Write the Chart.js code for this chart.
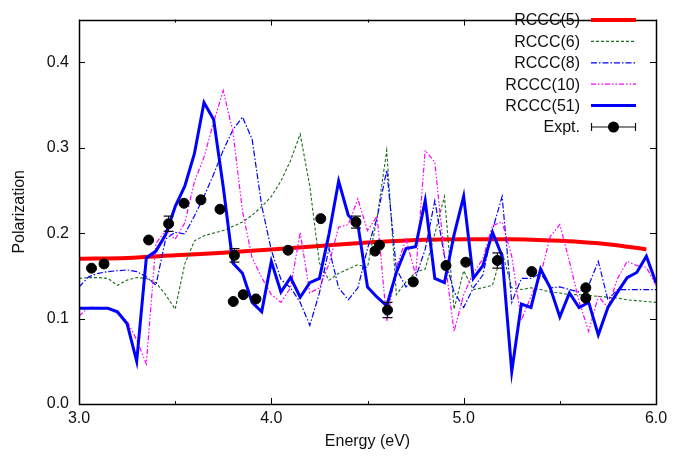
<!DOCTYPE html>
<html>
<head>
<meta charset="utf-8">
<script src="https://cdn.jsdelivr.net/npm/chart.js@4"></script>
<style>
  html, body { margin: 0; padding: 0; background: #fff; }
  #wrap { width: 684px; height: 459px; }
</style>
</head>
<body>
<div id="wrap"><canvas id="myChart" width="684" height="459"></canvas></div>
<script>
// Energy grid shared by the RCCC(6), (8), (10) and (51) curves (eV)
const energies = [
  3.00, 3.05, 3.10, 3.15, 3.20, 3.25, 3.30, 3.35, 3.40, 3.45,
  3.50, 3.55, 3.60, 3.65, 3.70, 3.75, 3.80, 3.85, 3.90, 3.95,
  4.00, 4.05, 4.10, 4.15, 4.20, 4.25, 4.30, 4.35, 4.40, 4.45,
  4.50, 4.55, 4.60, 4.65, 4.70, 4.75, 4.80, 4.85, 4.90, 4.95,
  5.00, 5.05, 5.10, 5.15, 5.20, 5.25, 5.30, 5.35, 5.40, 5.45,
  5.50, 5.55, 5.60, 5.65, 5.70, 5.75, 5.80, 5.85, 5.90, 5.95, 6.00
];

const rccc6 = [
  0.147, 0.148, 0.148, 0.147, 0.139, 0.145, 0.148, 0.147, 0.142, 0.128,
  0.111, 0.164, 0.191, 0.197, 0.200, 0.203, 0.208, 0.213, 0.221, 0.231,
  0.243, 0.261, 0.285, 0.316, 0.255, 0.165, 0.145, 0.153, 0.158, 0.163,
  0.160, 0.218, 0.297, 0.128, 0.143, 0.154, 0.158, 0.199, 0.243, 0.111,
  0.156, 0.134, 0.136, 0.139, 0.178, 0.136, 0.134, 0.136, 0.134, 0.131,
  0.130, 0.128, 0.128, 0.127, 0.126, 0.125, 0.124, 0.122, 0.121, 0.120, 0.119
];

const rccc8 = [
  0.137, 0.149, 0.153, 0.155, 0.156, 0.157, 0.155, 0.149, 0.139, 0.193,
  0.201, 0.199, 0.220, 0.243, 0.269, 0.297, 0.321, 0.336, 0.310, 0.232,
  0.180, 0.146, 0.136, 0.119, 0.092, 0.130, 0.182, 0.136, 0.122, 0.136,
  0.182, 0.218, 0.274, 0.158, 0.137, 0.148, 0.181, 0.238, 0.173, 0.131,
  0.113, 0.136, 0.151, 0.204, 0.243, 0.119, 0.147, 0.147, 0.153, 0.136,
  0.137, 0.134, 0.131, 0.139, 0.167, 0.122, 0.134, 0.134, 0.134, 0.134, 0.134
];

const rccc10 = [
  0.103, 0.113, 0.113, 0.112, 0.106, 0.097, 0.075, 0.047, 0.188, 0.203,
  0.193, 0.212, 0.260, 0.289, 0.330, 0.367, 0.319, 0.226, 0.171, 0.148,
  0.128, 0.119, 0.136, 0.201, 0.130, 0.136, 0.164, 0.207, 0.210, 0.240,
  0.203, 0.220, 0.097, 0.160, 0.193, 0.151, 0.297, 0.283, 0.173, 0.085,
  0.128, 0.153, 0.170, 0.209, 0.213, 0.173, 0.098, 0.126, 0.151, 0.196,
  0.210, 0.167, 0.120, 0.085, 0.126, 0.113, 0.147, 0.167, 0.162, 0.160, 0.139
];

const rccc51 = [
  0.112, 0.112, 0.112, 0.112, 0.108, 0.094, 0.050, 0.171, 0.179, 0.198,
  0.231, 0.255, 0.293, 0.353, 0.333, 0.254, 0.165, 0.153, 0.119, 0.108,
  0.167, 0.131, 0.148, 0.125, 0.142, 0.147, 0.199, 0.261, 0.221, 0.210,
  0.137, 0.125, 0.115, 0.154, 0.182, 0.184, 0.238, 0.147, 0.142, 0.198,
  0.243, 0.147, 0.162, 0.201, 0.173, 0.038, 0.117, 0.113, 0.158, 0.136,
  0.102, 0.130, 0.113, 0.119, 0.081, 0.113, 0.131, 0.148, 0.154, 0.173, 0.142
];

// RCCC(5) is smooth, so it has its own coarser grid
const rccc5Energies = [3.00, 3.25, 3.50, 3.75, 4.00, 4.25, 4.50, 4.75, 5.00, 5.25, 5.50, 5.75, 5.95];
const rccc5 = [0.170, 0.171, 0.174, 0.177, 0.181, 0.185, 0.189, 0.192, 0.193, 0.193, 0.191, 0.187, 0.181];

// Experimental points and their error bars
const exptEnergies = [
  3.065, 3.130, 3.362, 3.466, 3.546, 3.634, 3.733, 3.808, 3.802, 3.854, 3.920, 4.087,
  4.257, 4.440, 4.539, 4.562, 4.604, 4.738, 4.908, 5.011, 5.175, 5.354, 5.635, 5.635
];
const exptValues = [
  0.159, 0.164, 0.192, 0.211, 0.235, 0.239, 0.228, 0.174, 0.120, 0.128, 0.123, 0.180,
  0.217, 0.213, 0.179, 0.186, 0.110, 0.143, 0.162, 0.166, 0.168, 0.155, 0.136, 0.124
];
const exptErrors = [
  0, 0, 0, 0.009, 0, 0, 0, 0.008, 0, 0, 0, 0,
  0, 0.007, 0, 0, 0.009, 0, 0, 0, 0.009, 0, 0, 0
];

const xTicks = [3, 4, 5, 6];
const xMinorTicks = [3.5, 4.5, 5.5];
const yTicks = [0, 0.1, 0.2, 0.3, 0.4];

const seriesLabels = ['RCCC(5)', 'RCCC(6)', 'RCCC(8)', 'RCCC(10)', 'RCCC(51)', 'Expt.'];

const FONT = "'Liberation Sans', Arial, Helvetica, sans-serif";
Chart.defaults.font.family = FONT;
Chart.defaults.font.size = 16;
Chart.defaults.color = '#111';

function pairs(xs, ys) {
  return xs.map((x, i) => ({ x: x, y: ys[i] }));
}

// Ticks pointing inward on all four sides, plus the frame
const framePlugin = {
  id: 'frame',
  afterDraw(chart) {
    const { ctx, chartArea: a, scales } = chart;
    ctx.save();
    ctx.strokeStyle = '#000';
    ctx.lineWidth = 1;
    ctx.beginPath();
    xTicks.forEach(v => {
      const px = Math.round(scales.x.getPixelForValue(v)) + 0.5;
      ctx.moveTo(px, a.bottom); ctx.lineTo(px, a.bottom - 6);
      ctx.moveTo(px, a.top); ctx.lineTo(px, a.top + 6);
    });
    xMinorTicks.forEach(v => {
      const px = Math.round(scales.x.getPixelForValue(v)) + 0.5;
      ctx.moveTo(px, a.bottom); ctx.lineTo(px, a.bottom - 3);
      ctx.moveTo(px, a.top); ctx.lineTo(px, a.top + 3);
    });
    yTicks.forEach(v => {
      const py = Math.round(scales.y.getPixelForValue(v)) + 0.5;
      ctx.moveTo(a.left, py); ctx.lineTo(a.left + 6, py);
      ctx.moveTo(a.right, py); ctx.lineTo(a.right - 6, py);
    });
    ctx.stroke();
    ctx.lineWidth = 1.5;
    ctx.strokeRect(Math.round(a.left) + 0.5, Math.round(a.top) + 0.5,
      Math.round(a.right - a.left), Math.round(a.bottom - a.top));
    ctx.restore();
  }
};

// Vertical error bars with small caps for the experiment
const errorBarPlugin = {
  id: 'errorBars',
  afterDatasetsDraw(chart) {
    const { ctx, scales } = chart;
    ctx.save();
    ctx.strokeStyle = '#111';
    ctx.lineWidth = 1.2;
    ctx.beginPath();
    exptEnergies.forEach((e, i) => {
      const err = exptErrors[i];
      if (!err) return;
      const px = scales.x.getPixelForValue(e);
      const y1 = scales.y.getPixelForValue(exptValues[i] - err);
      const y2 = scales.y.getPixelForValue(exptValues[i] + err);
      ctx.moveTo(px, y1); ctx.lineTo(px, y2);
      ctx.moveTo(px - 5, y1); ctx.lineTo(px + 5, y1);
      ctx.moveTo(px - 5, y2); ctx.lineTo(px + 5, y2);
    });
    ctx.stroke();
    ctx.restore();
  }
};

// Key in the top right corner: label, then a line sample
const keyPlugin = {
  id: 'key',
  afterDraw(chart) {
    const { ctx } = chart;
    const textRight = 580, x1 = 591, x2 = 636;
    ctx.save();
    ctx.font = '16px ' + FONT;
    ctx.textAlign = 'right';
    ctx.textBaseline = 'middle';
    chart.data.datasets.forEach((ds, i) => {
      const y = 20 + i * 21.4;
      ctx.fillStyle = '#111';
      ctx.fillText(ds.label, textRight, y + 1);
      if (ds.showLine === false) {
        ctx.strokeStyle = '#111';
        ctx.lineWidth = 1.2;
        ctx.setLineDash([]);
        ctx.beginPath();
        ctx.moveTo(x1, y); ctx.lineTo(x2, y);
        ctx.moveTo(x1 + 0.5, y - 4); ctx.lineTo(x1 + 0.5, y + 4);
        ctx.moveTo(x2 - 0.5, y - 4); ctx.lineTo(x2 - 0.5, y + 4);
        ctx.stroke();
        ctx.fillStyle = '#000';
        ctx.beginPath();
        ctx.arc((x1 + x2) / 2, y, 5.5, 0, Math.PI * 2);
        ctx.fill();
      } else {
        ctx.strokeStyle = ds.borderColor;
        ctx.lineWidth = ds.borderWidth;
        ctx.setLineDash(ds.borderDash || []);
        ctx.beginPath();
        ctx.moveTo(x1, y); ctx.lineTo(x2, y);
        ctx.stroke();
      }
    });
    ctx.restore();
  }
};

const config = {
  type: 'line',
  data: {
    datasets: [
      {
        label: seriesLabels[0],
        data: pairs(rccc5Energies, rccc5),
        borderColor: '#ff0000',
        borderWidth: 4,
        tension: 0.4,
        cubicInterpolationMode: 'monotone',
        order: 5
      },
      {
        label: seriesLabels[1],
        data: pairs(energies, rccc6),
        borderColor: '#1b6e1b',
        borderWidth: 1.1,
        borderDash: [3, 2],
        order: 4
      },
      {
        label: seriesLabels[2],
        data: pairs(energies, rccc8),
        borderColor: '#0000ff',
        borderWidth: 1.2,
        borderDash: [6, 2, 1.5, 2],
        order: 3
      },
      {
        label: seriesLabels[3],
        data: pairs(energies, rccc10),
        borderColor: '#ff00ff',
        borderWidth: 1.2,
        borderDash: [5, 2, 1.5, 2, 1.5, 2],
        order: 2
      },
      {
        label: seriesLabels[4],
        data: pairs(energies, rccc51),
        borderColor: '#0000ff',
        borderWidth: 3,
        order: 1
      },
      {
        label: seriesLabels[5],
        data: pairs(exptEnergies, exptValues),
        showLine: false,
        pointRadius: 5,
        pointBorderWidth: 1,
        pointBackgroundColor: '#000',
        pointBorderColor: '#000',
        order: 0
      }
    ]
  },
  options: {
    responsive: false,
    animation: false,
    events: [],
    layout: { padding: { top: 4, right: 28, left: 0, bottom: 0 } },
    elements: {
      point: { radius: 0 },
      line: { borderJoinStyle: 'miter', tension: 0 }
    },
    plugins: {
      legend: { display: false },
      tooltip: { enabled: false }
    },
    scales: {
      x: {
        type: 'linear',
        min: 3,
        max: 6,
        afterBuildTicks: scale => { scale.ticks = xTicks.map(v => ({ value: v })); },
        afterFit: scale => { scale.height = 55; },
        grid: { display: false, drawTicks: false },
        border: { display: false },
        ticks: {
          padding: 5,
          maxRotation: 0,
          callback: v => v.toFixed(1)
        },
        title: {
          display: true,
          text: 'Energy (eV)',
          padding: { top: 0, bottom: 8 }
        }
      },
      y: {
        min: 0,
        max: 0.45,
        afterBuildTicks: scale => { scale.ticks = yTicks.map(v => ({ value: v })); },
        afterFit: scale => { scale.width = 79; },
        grid: { display: false, drawTicks: false },
        border: { display: false },
        ticks: {
          padding: 10,
          callback: v => v.toFixed(1)
        },
        title: {
          display: true,
          text: 'Polarization',
          padding: { top: 10, bottom: 0 }
        }
      }
    }
  },
  plugins: [framePlugin, errorBarPlugin, keyPlugin]
};

const ctx = document.getElementById('myChart').getContext('2d');
const myChart = new Chart(ctx, config);
</script>
</body>
</html>
